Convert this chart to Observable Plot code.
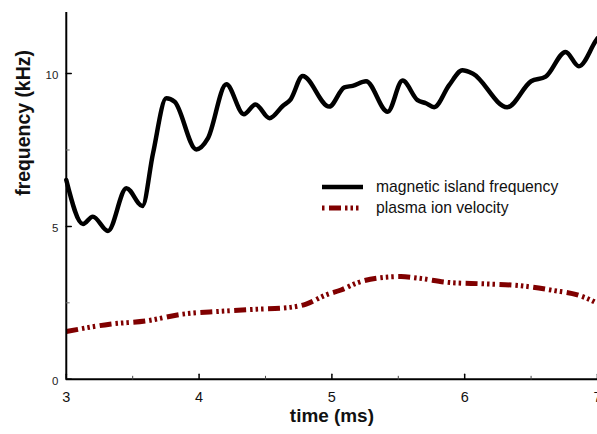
<!DOCTYPE html>
<html><head><meta charset="utf-8">
<script src="https://cdn.jsdelivr.net/npm/d3@7"></script>
<script src="https://cdn.jsdelivr.net/npm/@observablehq/plot@0.6"></script>
<style>
html,body{margin:0;padding:0;background:#fff;overflow:hidden;}
#wrap{position:relative;width:597px;height:434px;overflow:hidden;}
.legend{position:absolute;left:322px;top:176.5px;font-family:"Liberation Sans",Arial,sans-serif;font-size:15.7px;color:#111;}
.row{display:flex;align-items:center;height:21px;white-space:nowrap;}
.row svg{margin-right:13px;display:block;}
</style></head><body><div id="wrap"></div>
<script>
// magnetic island frequency (kHz) vs time (ms)
const freqTime  = [3.00, 3.126, 3.20, 3.314, 3.453, 3.573, 3.653, 3.753, 3.816, 3.979, 4.066, 4.205, 4.337, 4.425, 4.53, 4.63, 4.69, 4.78, 4.98, 5.094, 5.156, 5.257, 5.42, 5.532, 5.645, 5.708, 5.77, 5.883, 5.983, 6.06, 6.32, 6.50, 6.61, 6.76, 6.86, 6.99, 7.00];
const freqValue = [6.52, 5.08, 5.32, 4.85, 6.25, 5.67, 7.39, 9.19, 9.08, 7.52, 7.88, 9.65, 8.67, 8.99, 8.54, 8.94, 9.16, 9.92, 8.92, 9.55, 9.60, 9.75, 8.75, 9.77, 9.13, 9.03, 8.90, 9.62, 10.11, 10.00, 8.90, 9.75, 9.90, 10.71, 10.24, 11.09, 11.15];
// plasma ion velocity vs time (ms)
const velTime  = [3.00, 3.327, 3.603, 3.878, 4.154, 4.43, 4.68, 4.806, 4.956, 5.069, 5.194, 5.344, 5.52, 5.645, 5.896, 6.147, 6.42, 6.673, 6.848, 6.974, 7.00];
const velValue = [1.56, 1.80, 1.91, 2.13, 2.22, 2.29, 2.35, 2.46, 2.76, 2.92, 3.16, 3.31, 3.36, 3.31, 3.16, 3.12, 3.06, 2.90, 2.76, 2.54, 2.48];
const xTicks = [3, 4, 5, 6, 7];
const xMinor = [3.5, 4.5, 5.5, 6.5];
const yTicks = [0, 5, 10];
const yMinor = [2.5, 7.5];
const seriesNames = ["magnetic island frequency", "plasma ion velocity"];
const xTitle = "time (ms)";
const yTitle = "frequency (kHz)";

const freq = freqTime.map((t, i) => ({t, v: freqValue[i]}));
const vel = velTime.map((t, i) => ({t, v: velValue[i]}));
const dash = "12,4,2.5,3,2.5,3,2.5,4.5";
const red = "#800000";
const stick = {draw(ctx, l) { ctx.moveTo(0, 0); ctx.lineTo(0, -l); }};

const chart = Plot.plot({
  width: 599, height: 434,
  marginLeft: 66, marginRight: 0, marginTop: 12, marginBottom: 54,
  style: {fontFamily: "'Liberation Sans', Arial, sans-serif", background: "#fff", overflow: "visible"},
  x: {domain: [3, 7]},
  y: {domain: [0, 12]},
  marks: [
    Plot.line(vel, {x: "t", y: "v", stroke: red, strokeWidth: 5, strokeDasharray: dash, strokeLinecap: "butt", strokeLinejoin: "miter", curve: "monotone-x"}),
    Plot.line(freq, {x: "t", y: "v", stroke: "#000", strokeWidth: 4.5, curve: "monotone-x"}),
    Plot.ruleX([3], {stroke: "#000", strokeWidth: 2}),
    Plot.ruleY([0], {stroke: "#000", strokeWidth: 2}),
    Plot.vector(xTicks, {x: d => d, frameAnchor: "bottom", length: 5, rotate: 0, anchor: "start", shape: stick, stroke: "#000", strokeWidth: 1.5}),
    Plot.vector(xMinor, {x: d => d, frameAnchor: "bottom", length: 3, rotate: 0, anchor: "start", shape: stick, stroke: "#444", strokeWidth: 1}),
    Plot.vector(yTicks, {y: d => d, frameAnchor: "left", length: 5, rotate: 90, anchor: "start", shape: stick, stroke: "#000", strokeWidth: 1.5}),
    Plot.vector(yMinor, {y: d => d, frameAnchor: "left", length: 3, rotate: 90, anchor: "start", shape: stick, stroke: "#666", strokeWidth: 1}),
    Plot.axisX({ticks: xTicks, tickFormat: d3.format("d"), tickSize: 0, tickPadding: 12.5, fontSize: 14.5, label: null, fill: "#111"}),
    Plot.axisY({ticks: yTicks, tickFormat: d3.format("d"), tickSize: 0, tickPadding: 8, fontSize: 11.5, label: null, dy: 2, fill: "#222"}),
    Plot.text([xTitle], {frameAnchor: "bottom", text: d => d, dy: 43.3, fontSize: 19, fontWeight: "bold", fill: "#111"}),
    Plot.text([yTitle], {frameAnchor: "left", text: d => d, dx: -43, rotate: -90, fontSize: 19.5, fontWeight: "bold", fill: "#111"})
  ]
});
const wrap = document.getElementById("wrap");
wrap.appendChild(chart);

const legend = document.createElement("div");
legend.className = "legend";
const styles = [
  {stroke: "#000", width: 4.5, dash: null, offset: 0},
  {stroke: red, width: 5, dash: dash, offset: 27}
];
seriesNames.forEach((name, i) => {
  const row = document.createElement("div");
  row.className = "row";
  const s = styles[i];
  row.innerHTML = `<svg width="41" height="8"><line x1="0" y1="4" x2="41" y2="4" stroke="${s.stroke}" stroke-width="${s.width}"${s.dash ? ` stroke-dasharray="${s.dash}" stroke-dashoffset="${s.offset}"` : ""}/></svg><span>${name}</span>`;
  legend.appendChild(row);
});
wrap.appendChild(legend);
</script></body></html>
